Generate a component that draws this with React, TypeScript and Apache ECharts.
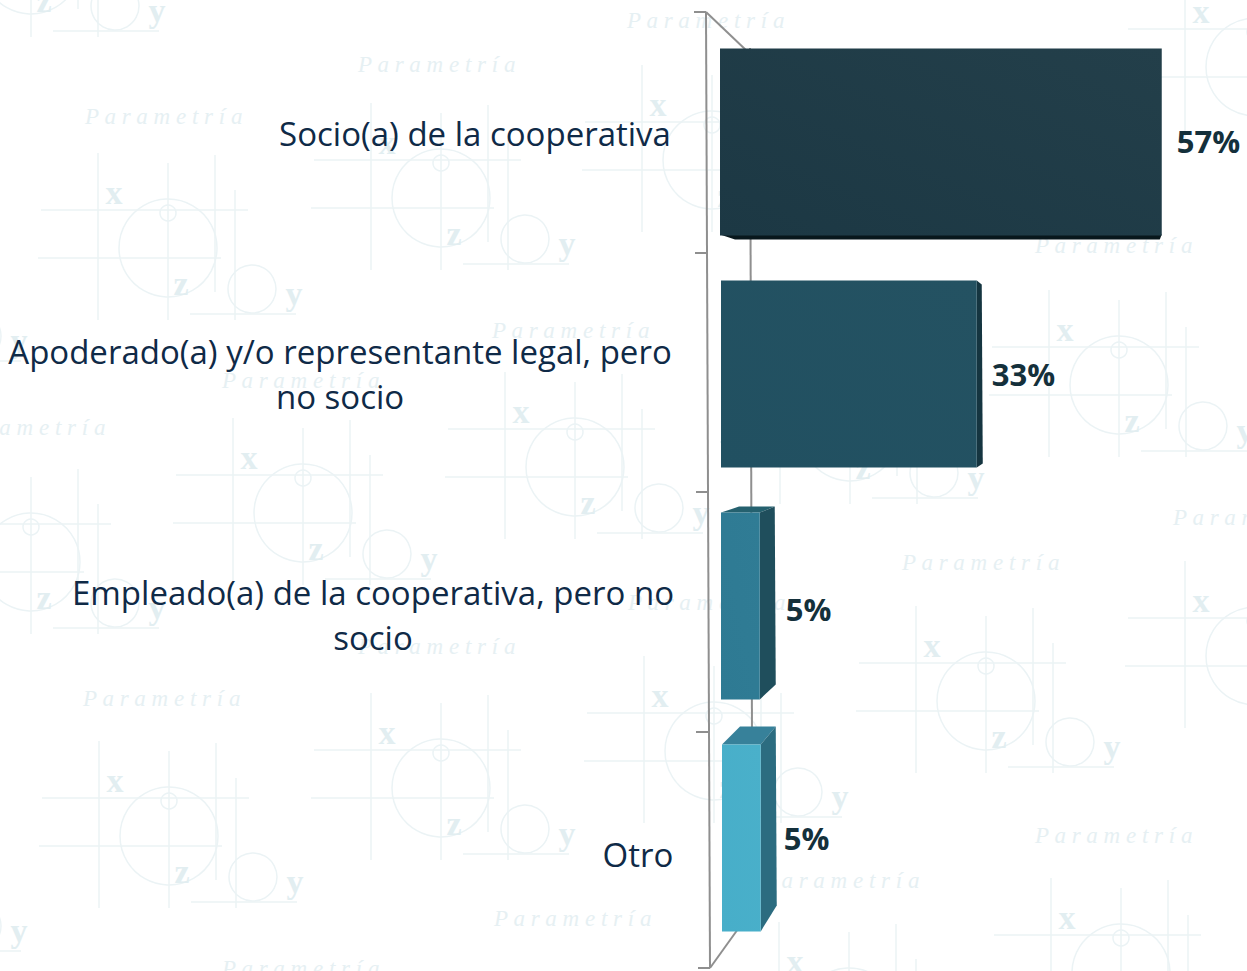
import React, { useEffect, useRef } from "react";
import * as echarts from "echarts";

const categories = [
  "Socio(a) de la cooperativa",
  "Apoderado(a) y/o representante legal, pero\nno socio",
  "Empleado(a) de la cooperativa, pero no\nsocio",
  "Otro",
];
const values = [57, 33, 5, 5];
const valueLabels = ["57%", "33%", "5%", "5%"];

// Styling of the pseudo-3D look, one entry per bar
const frontStart = [0, 1, 1, 2];
const frontColors = [
  ["#1c3844", "#233f4a"],
  ["#215061", "#245262"],
  ["#2e7a93", "#307c95"],
  ["#47aec9", "#4ab0ca"],
];
const topColors = ["", "", "#25616f", "#37819a"];
const sideColors = ["", "#153540", "#1f4e5c", "#2c6c80"];
const labelCenterX = [475, 340, 373, 638];
const labelCenterY = [133, 374, 614.5, 854];
const valueLabelGap = [15, 15, 26, 23];
const valueLabelDy = [-1, 0, 3, 0];
const topDepth = [
  null,
  null,
  { left: 18, right: 15, rise: 6 },
  { left: 18, right: 15, rise: 18 },
];
const sideDepth = [
  null,
  { dx: 5, topDy: 4, bottomDy: -4 },
  { dx: 15, topDy: -6, bottomDy: -15 },
  { dx: 15, topDy: -18, bottomDy: -26 },
];

// Watermark
const LINE = "#ebf3f5";
const GLYPH = "#e2eef1";
const motifCenters = [
  [168, 248], [441, 198], [303, 513], [31, 562], [575, 467], [712, 160],
  [441, 788], [169, 836], [986, 701], [1119, 385], [850, 432], [714, 751],
  [1255, 67], [1255, 656], [1121, 973], [31, -35], [-107, 295], [-107, 885], [849, 1017],
];
const stampPositions = [
  [358, 64], [85, 116], [627, 20], [1035, 245], [492, 330], [222, 380], [-52, 427],
  [902, 562], [1173, 517], [358, 646], [628, 602], [83, 698], [1035, 835], [762, 880],
  [494, 918], [222, 968],
];

const frameColor = "#8f8f8f";
const frameLines = [
  [706, 12, 710, 968],
  [706, 12, 748, 52],
  [694, 12, 706, 12],
  [695, 253, 706, 253],
  [696, 492, 707, 492],
  [696, 732, 708, 732],
  [698, 968, 710, 968],
  [750, 48, 752, 740],
  [710, 968, 738, 929],
];

function motif(cx: number, cy: number) {
  const seg = (x1: number, y1: number, x2: number, y2: number) => ({
    type: "line",
    shape: { x1: cx + x1, y1: cy + y1, x2: cx + x2, y2: cy + y2 },
    style: { stroke: LINE, lineWidth: 1.5 },
    silent: true,
  });
  const ring = (x: number, y: number, r: number) => ({
    type: "circle",
    shape: { cx: cx + x, cy: cy + y, r },
    style: { fill: "none", stroke: LINE, lineWidth: 1.5 },
    silent: true,
  });
  const glyph = (t: string, x: number, y: number) => ({
    type: "text",
    x: cx + x,
    y: cy + y,
    style: {
      text: t,
      fill: GLYPH,
      font: "bold 34px 'Liberation Serif'",
      align: "center",
      verticalAlign: "middle",
    },
    silent: true,
  });
  return [
    seg(-127, -38, 80, -38),
    seg(-130, 10, 53, 10),
    seg(-70, -95, -70, 72),
    seg(0, -85, 0, 72),
    seg(47, -93, 47, 44),
    seg(67, -58, 67, 72),
    seg(22, 66, 128, 66),
    ring(0, 0, 49),
    ring(0, -35, 8),
    ring(84, 41, 24),
    glyph("x", -54, -56),
    glyph("z", 13, 35),
    glyph("y", 126, 45),
  ];
}

function stamp(x: number, y: number) {
  return {
    type: "text",
    x,
    y,
    style: {
      text: "P a r a m e t r í a",
      fill: "#e6f0f3",
      font: "italic 23px 'Liberation Serif'",
      align: "left",
      verticalAlign: "middle",
    },
    silent: true,
  };
}

export default function App() {
  const ref = useRef<HTMLDivElement>(null);
  useEffect(() => {
    document.body.style.margin = "0";
    const chart = echarts.init(ref.current!, undefined, { renderer: "svg" });
    chart.setOption({
      animation: false,
      backgroundColor: "#ffffff",
      grid: { left: 720, width: 527, top: 26, height: 928 },
      xAxis: { type: "value", min: 0, max: 68, show: false },
      yAxis: { type: "category", data: categories, inverse: true, show: false },
      graphic: {
        elements: [
          ...motifCenters.flatMap(([x, y]) => motif(x, y)),
          ...stampPositions.map(([x, y]) => stamp(x, y)),
          ...frameLines.map(([x1, y1, x2, y2]) => ({
            type: "line",
            shape: { x1, y1, x2, y2 },
            style: { stroke: frameColor, lineWidth: 2 },
            silent: true,
          })),
        ],
      },
      series: [
        {
          type: "custom",
          z: 3,
          silent: true,
          data: values.map((v, i) => [v, i]),
          encode: { x: 0, y: 1 },
          renderItem: (_: any, api: any) => {
            const i = api.value(1) as number;
            const [xe, yc] = api.coord([api.value(0), i]);
            const [xs] = api.coord([0, i]);
            const h = (api.size([0, 1]) as number[])[1] * 0.805;
            const x0 = xs + frontStart[i];
            const x1 = xe + frontStart[i];
            const y0 = yc - h / 2;
            const y1 = yc + h / 2;
            const children: any[] = [];
            const t = topDepth[i];
            if (t) {
              children.push({
                type: "polygon",
                shape: { points: [[x0, y0], [x0 + t.left, y0 - t.rise], [x1 + t.right, y0 - t.rise], [x1, y0]] },
                style: { fill: topColors[i] },
              });
            }
            const s = sideDepth[i];
            if (s) {
              children.push({
                type: "polygon",
                shape: { points: [[x1, y0], [x1 + s.dx, y0 + s.topDy], [x1 + s.dx + 1, y1 + s.bottomDy], [x1, y1]] },
                style: { fill: sideColors[i] },
              });
            }
            if (i === 0) {
              children.push({
                type: "polygon",
                shape: { points: [[x0, y1 - 1], [x0 + 15, y1 + 4], [x1 - 2, y1 + 4], [x1, y1 - 1]] },
                style: { fill: "#08171c" },
              });
            }
            children.push({
              type: "rect",
              shape: { x: x0, y: y0, width: x1 - x0, height: h },
              style: {
                fill: new echarts.graphic.LinearGradient(0, 1, 1, 0, [
                  { offset: 0, color: frontColors[i][0] },
                  { offset: 1, color: frontColors[i][1] },
                ]),
              },
            });
            children.push({
              type: "text",
              x: x1 + valueLabelGap[i],
              y: yc + valueLabelDy[i],
              style: {
                text: valueLabels[i],
                fill: "#14303b",
                font: "700 31px 'Open Sans'",
                align: "left",
                verticalAlign: "middle",
              },
            });
            return { type: "group", children };
          },
        },
        {
          type: "custom",
          z: 3,
          silent: true,
          data: categories.map((c, i) => [c, i]),
          encode: { y: 1 },
          renderItem: (_: any, api: any) => {
            const i = api.value(1) as number;
            return {
              type: "text",
              x: labelCenterX[i],
              y: labelCenterY[i],
              style: {
                text: categories[i],
                fill: "#0f2a47",
                font: "33px 'Open Sans'",
                lineHeight: 45,
                align: "center",
                verticalAlign: "middle",
              },
            };
          },
        },
      ],
    });
    return () => chart.dispose();
  }, []);
  return <div ref={ref} style={{ position: "fixed", left: 0, top: 0, width: 1247, height: 971 }} />;
}
